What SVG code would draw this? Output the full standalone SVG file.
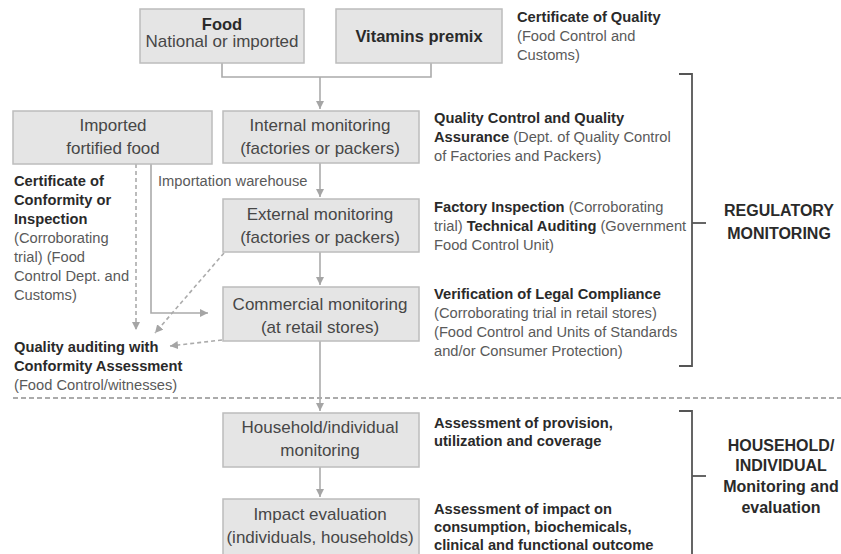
<svg xmlns="http://www.w3.org/2000/svg" width="841" height="554" viewBox="0 0 841 554">
<defs>
<style>
text{font-family:"Liberation Sans",Arial,sans-serif;}
.box{fill:#e5e5e5;stroke:#bcbcbc;stroke-width:1.5;}
.bt{font-size:17px;fill:#474747;text-anchor:middle;}
.bb{font-size:16.5px;fill:#2a2a2a;font-weight:bold;text-anchor:middle;}
.t{font-size:14.7px;fill:#5a5a5a;}
.b{font-weight:bold;fill:#2a2a2a;}
.lab{font-size:16px;font-weight:bold;fill:#2a2a2a;text-anchor:middle;}
.c{fill:none;stroke:#ababab;stroke-width:1.6;}
.d{fill:none;stroke:#ababab;stroke-width:1.6;stroke-dasharray:4 3;}
.br{fill:none;stroke:#555;stroke-width:1.8;}
</style>
<marker id="ah" viewBox="0 0 10 10" refX="10" refY="5" markerWidth="8" markerHeight="8" markerUnits="userSpaceOnUse" orient="auto">
<path d="M0,0 L10,5 L0,10 z" fill="#a5a5a5"/>
</marker>
</defs>

<g id="connectors">
<polyline class="c" points="222,63 222,77 431,77 431,63"/>
<line class="c" x1="320" y1="77" x2="320" y2="109" marker-end="url(#ah)"/>
<line class="c" x1="320" y1="163" x2="320" y2="197" marker-end="url(#ah)"/>
<line class="c" x1="320" y1="252" x2="320" y2="285" marker-end="url(#ah)"/>
<line class="c" x1="320" y1="341" x2="320" y2="411" marker-end="url(#ah)"/>
<line class="c" x1="320" y1="467" x2="320" y2="497" marker-end="url(#ah)"/>
<polyline class="c" points="151,164 151,313 208,313" marker-end="url(#ah)"/>
<line class="d" x1="136" y1="164" x2="136" y2="330" marker-end="url(#ah)"/>
<line class="d" x1="224" y1="253" x2="155" y2="333" marker-end="url(#ah)"/>
<line class="d" x1="222" y1="340" x2="170" y2="346" marker-end="url(#ah)"/>
<line x1="13" y1="398" x2="841" y2="398" stroke="#ababab" stroke-width="2.2" stroke-dasharray="5 3"/>
</g>

<g id="food">
<rect class="box" x="140" y="9" width="164" height="54"/>
<text class="bb" x="222" y="30">Food</text>
<text class="bt" x="222" y="47">National or imported</text>
</g>
<g id="premix">
<rect class="box" x="336" y="9" width="166" height="54"/>
<text class="bb" x="419" y="42">Vitamins premix</text>
</g>
<g id="imported">
<rect class="box" x="13" y="111" width="199" height="53"/>
<text class="bt" x="113" y="131">Imported</text>
<text class="bt" x="113" y="154">fortified food</text>
</g>
<g id="internal">
<rect class="box" x="223" y="111" width="196" height="52"/>
<text class="bt" x="320" y="131">Internal monitoring</text>
<text class="bt" x="320" y="154">(factories or packers)</text>
</g>
<g id="external">
<rect class="box" x="223" y="199" width="196" height="53"/>
<text class="bt" x="320" y="220">External monitoring</text>
<text class="bt" x="320" y="243">(factories or packers)</text>
</g>
<g id="commercial">
<rect class="box" x="223" y="287" width="196" height="54"/>
<text class="bt" x="320" y="310">Commercial monitoring</text>
<text class="bt" x="320" y="333">(at retail stores)</text>
</g>
<g id="household">
<rect class="box" x="223" y="413" width="196" height="54"/>
<text class="bt" x="320" y="433">Household/individual</text>
<text class="bt" x="320" y="456">monitoring</text>
</g>
<g id="impact">
<rect class="box" x="223" y="499" width="196" height="56"/>
<text class="bt" x="320" y="520">Impact evaluation</text>
<text class="bt" x="320" y="543">(individuals, households)</text>
</g>

<g id="notes">
<text class="t" x="158" y="186">Importation warehouse</text>

<text class="t" x="517" y="22"><tspan class="b">Certificate of Quality</tspan></text>
<text class="t" x="517" y="41">(Food Control and</text>
<text class="t" x="517" y="60">Customs)</text>

<text class="t" x="434" y="123"><tspan class="b">Quality Control and Quality</tspan></text>
<text class="t" x="434" y="142"><tspan class="b">Assurance</tspan> (Dept. of Quality Control</text>
<text class="t" x="434" y="161">of Factories and Packers)</text>

<text class="t" x="434" y="212"><tspan class="b">Factory Inspection</tspan> (Corroborating</text>
<text class="t" x="434" y="231">trial) <tspan class="b">Technical Auditing</tspan> (Government</text>
<text class="t" x="434" y="250">Food Control Unit)</text>

<text class="t" x="434" y="299"><tspan class="b">Verification of Legal Compliance</tspan></text>
<text class="t" x="434" y="318">(Corroborating trial in retail stores)</text>
<text class="t" x="434" y="337">(Food Control and Units of Standards</text>
<text class="t" x="434" y="356">and/or Consumer Protection)</text>

<text class="t" x="434" y="428"><tspan class="b">Assessment of provision,</tspan></text>
<text class="t" x="434" y="446"><tspan class="b">utilization and coverage</tspan></text>

<text class="t" x="434" y="514"><tspan class="b">Assessment of impact on</tspan></text>
<text class="t" x="434" y="532"><tspan class="b">consumption, biochemicals,</tspan></text>
<text class="t" x="434" y="550"><tspan class="b">clinical and functional outcome</tspan></text>

<text class="t" x="14" y="186"><tspan class="b">Certificate of</tspan></text>
<text class="t" x="14" y="205"><tspan class="b">Conformity or</tspan></text>
<text class="t" x="14" y="224"><tspan class="b">Inspection</tspan></text>
<text class="t" x="14" y="243">(Corroborating</text>
<text class="t" x="14" y="262">trial) (Food</text>
<text class="t" x="14" y="281">Control Dept. and</text>
<text class="t" x="14" y="300">Customs)</text>

<text class="t" x="14" y="352"><tspan class="b">Quality auditing with</tspan></text>
<text class="t" x="14" y="371"><tspan class="b">Conformity Assessment</tspan></text>
<text class="t" x="14" y="390">(Food Control/witnesses)</text>
</g>

<g id="regulatory">
<polyline class="br" points="679,74 692,74 692,366 679,366"/>
<line class="br" x1="692" y1="223" x2="706" y2="223"/>
<text class="lab" x="779" y="216">REGULATORY</text>
<text class="lab" x="779" y="239">MONITORING</text>
</g>
<g id="household-label">
<polyline class="br" points="679,411 692,411 692,556"/>
<line class="br" x1="692" y1="476" x2="706" y2="476"/>
<text class="lab" x="781" y="451">HOUSEHOLD/</text>
<text class="lab" x="781" y="471">INDIVIDUAL</text>
<text class="lab" x="781" y="492">Monitoring and</text>
<text class="lab" x="781" y="513">evaluation</text>
</g>
</svg>
